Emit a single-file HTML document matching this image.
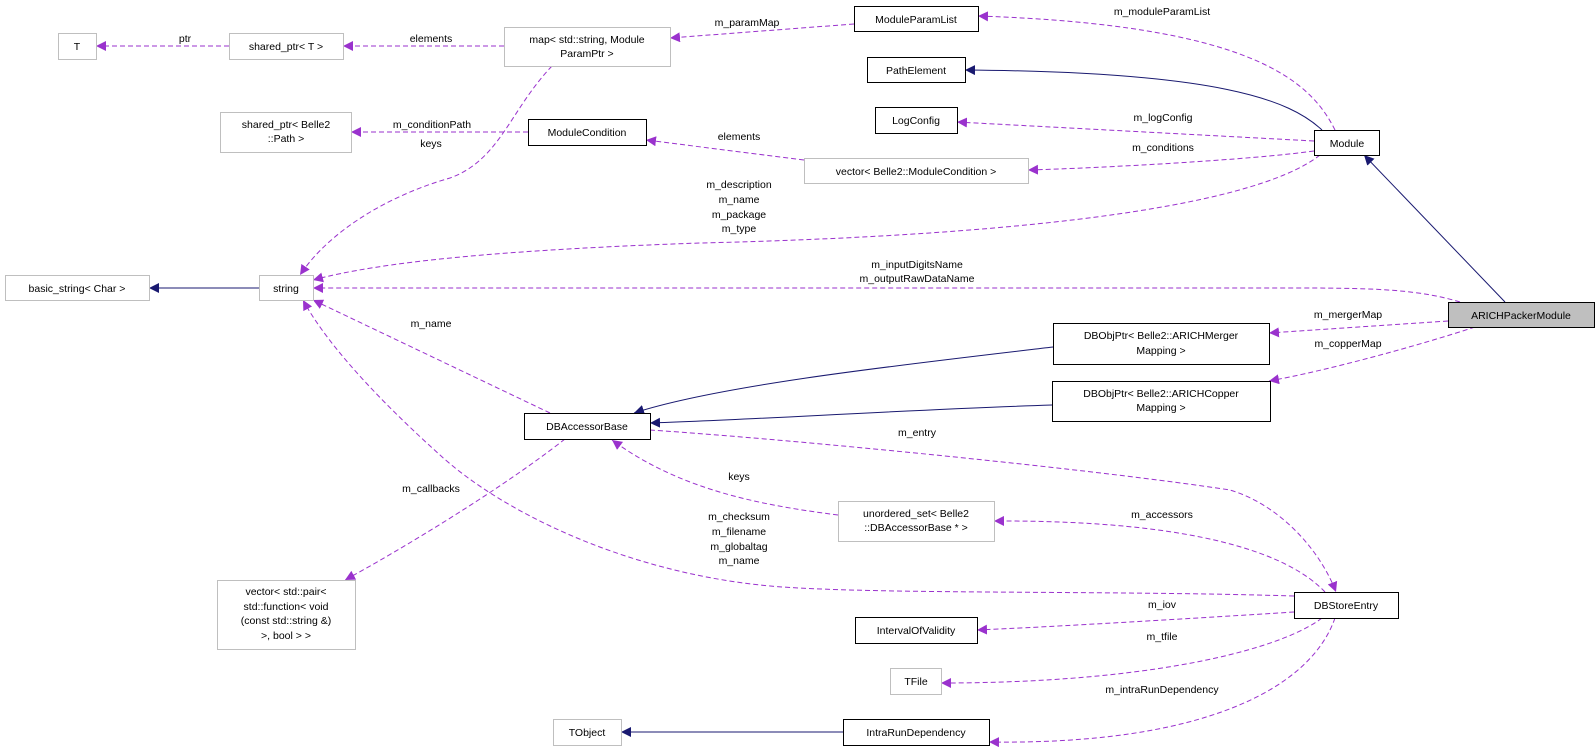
<!DOCTYPE html>
<html><head><meta charset="utf-8"><style>
html,body{margin:0;padding:0;background:#fff;}
svg{display:block;}
text{font-family:"Liberation Sans",sans-serif;font-size:10.5px;fill:#000;}
.n{fill:#fff;stroke:#000;stroke-width:1;}
.g{fill:#fff;stroke:#bfbfbf;stroke-width:1;}
.p{fill:none;stroke:#9a32cd;stroke-width:1;stroke-dasharray:5,3;}
.b{fill:none;stroke:#191970;stroke-width:1;}
</style></head><body>
<svg width="1596" height="751" viewBox="0 0 1596 751" xmlns="http://www.w3.org/2000/svg">
<defs>
<marker id="ap" markerUnits="userSpaceOnUse" markerWidth="12" markerHeight="10" refX="10" refY="5" orient="auto"><path d="M0,0 L10,5 L0,10 Z" fill="#9a32cd"/></marker>
<marker id="ab" markerUnits="userSpaceOnUse" markerWidth="12" markerHeight="10" refX="10" refY="5" orient="auto"><path d="M0,0 L10,5 L0,10 Z" fill="#191970"/></marker>
</defs>

<!-- edges -->
<path class="p" d="M229,46 L96,46" marker-end="url(#ap)"/>
<path class="p" d="M504,46 L343,46" marker-end="url(#ap)"/>
<path class="p" d="M854,24 L670,38" marker-end="url(#ap)"/>
<path class="p" d="M1335,130 C1310,80 1250,25 978,16" marker-end="url(#ap)"/>
<path class="b" d="M1322,130 C1290,100 1220,72 965,70" marker-end="url(#ab)"/>
<path class="p" d="M1314,141 L957,122" marker-end="url(#ap)"/>
<path class="p" d="M1314,151 C1250,160 1100,168 1028,170" marker-end="url(#ap)"/>
<path class="p" d="M804,160 L646,140" marker-end="url(#ap)"/>
<path class="p" d="M528,132 L351,132" marker-end="url(#ap)"/>
<path class="p" d="M552,66 C510,110 500,160 450,178 C390,195 330,230 300,275" marker-end="url(#ap)"/>
<path class="p" d="M1320,155 C1250,210 1000,236 700,243 C500,250 380,262 313,280" marker-end="url(#ap)"/>
<path class="p" d="M1460,302 C1420,290 1380,288 1300,288 L313,288" marker-end="url(#ap)"/>
<path class="b" d="M259,288 L149,288" marker-end="url(#ab)"/>
<path class="p" d="M1448,321 L1269,333" marker-end="url(#ap)"/>
<path class="p" d="M1475,327 C1420,345 1330,370 1269,381" marker-end="url(#ap)"/>
<path class="b" d="M1053,347 C900,365 720,385 634,413" marker-end="url(#ab)"/>
<path class="b" d="M1052,405 C900,410 750,420 650,423" marker-end="url(#ab)"/>
<path class="p" d="M550,413 L313,300" marker-end="url(#ap)"/>
<path class="p" d="M1294,596 C1100,590 850,595 760,585 C620,570 500,510 440,455 C390,410 330,350 303,300" marker-end="url(#ap)"/>
<path class="p" d="M565,439 C500,490 400,550 345,580" marker-end="url(#ap)"/>
<path class="p" d="M650,430 C800,440 1100,470 1230,490 C1280,505 1320,550 1336,592" marker-end="url(#ap)"/>
<path class="p" d="M1325,592 C1290,555 1200,520 994,521" marker-end="url(#ap)"/>
<path class="p" d="M838,515 C760,505 680,490 612,440" marker-end="url(#ap)"/>
<path class="p" d="M1294,612 C1200,618 1050,627 977,630" marker-end="url(#ap)"/>
<path class="p" d="M1322,618 C1280,650 1150,683 941,683" marker-end="url(#ap)"/>
<path class="p" d="M1335,618 C1310,690 1200,745 989,742" marker-end="url(#ap)"/>
<path class="b" d="M843,732 L621,732" marker-end="url(#ab)"/>
<path class="b" d="M1505,302 L1364,155" marker-end="url(#ab)"/>

<!-- nodes -->
<rect class="g" x="58.5" y="33.5" width="38" height="26"/><text x="77" y="50" text-anchor="middle">T</text>
<rect class="g" x="229.5" y="33.5" width="114" height="26"/><text x="286" y="50" text-anchor="middle">shared_ptr&lt; T &gt;</text>
<rect class="g" x="504.5" y="27.5" width="166" height="39"/><text x="587" y="43" text-anchor="middle">map&lt; std::string, Module</text><text x="587" y="57" text-anchor="middle">ParamPtr &gt;</text>
<rect class="g" x="220.5" y="112.5" width="131" height="40"/><text x="286" y="128" text-anchor="middle">shared_ptr&lt; Belle2</text><text x="286" y="142" text-anchor="middle">::Path &gt;</text>
<rect class="n" x="528.5" y="119.5" width="118" height="26"/><text x="587" y="136" text-anchor="middle">ModuleCondition</text>
<rect class="g" x="5.5" y="275.5" width="144" height="25"/><text x="77" y="292" text-anchor="middle">basic_string&lt; Char &gt;</text>
<rect class="g" x="259.5" y="275.5" width="54" height="25"/><text x="286" y="292" text-anchor="middle">string</text>
<rect class="n" x="854.5" y="6.5" width="124" height="25"/><text x="916" y="23" text-anchor="middle">ModuleParamList</text>
<rect class="n" x="867.5" y="57.5" width="98" height="25"/><text x="916" y="74" text-anchor="middle">PathElement</text>
<rect class="n" x="875.5" y="107.5" width="82" height="26"/><text x="916" y="124" text-anchor="middle">LogConfig</text>
<rect class="g" x="804.5" y="158.5" width="224" height="25"/><text x="916" y="175" text-anchor="middle">vector&lt; Belle2::ModuleCondition &gt;</text>
<rect class="n" x="1314.5" y="130.5" width="65" height="25"/><text x="1347" y="147" text-anchor="middle">Module</text>
<rect x="1448.5" y="302.5" width="146" height="25" fill="#bfbfbf" stroke="#000"/><text x="1521" y="319" text-anchor="middle">ARICHPackerModule</text>
<rect class="n" x="1053.5" y="323.5" width="216" height="41"/><text x="1161" y="339" text-anchor="middle">DBObjPtr&lt; Belle2::ARICHMerger</text><text x="1161" y="354" text-anchor="middle">Mapping &gt;</text>
<rect class="n" x="1052.5" y="381.5" width="218" height="40"/><text x="1161" y="397" text-anchor="middle">DBObjPtr&lt; Belle2::ARICHCopper</text><text x="1161" y="411" text-anchor="middle">Mapping &gt;</text>
<rect class="n" x="524.5" y="413.5" width="126" height="26"/><text x="587" y="430" text-anchor="middle">DBAccessorBase</text>
<rect class="g" x="217.5" y="580.5" width="138" height="69"/><text x="286" y="595" text-anchor="middle">vector&lt; std::pair&lt;</text><text x="286" y="610" text-anchor="middle">std::function&lt; void</text><text x="286" y="624" text-anchor="middle">(const std::string &amp;)</text><text x="286" y="639" text-anchor="middle">&gt;, bool &gt; &gt;</text>
<rect class="g" x="553.5" y="719.5" width="68" height="26"/><text x="587" y="736" text-anchor="middle">TObject</text>
<rect class="g" x="838.5" y="501.5" width="156" height="40"/><text x="916" y="517" text-anchor="middle">unordered_set&lt; Belle2</text><text x="916" y="531" text-anchor="middle">::DBAccessorBase * &gt;</text>
<rect class="n" x="1294.5" y="592.5" width="104" height="26"/><text x="1346" y="609" text-anchor="middle">DBStoreEntry</text>
<rect class="n" x="855.5" y="617.5" width="122" height="26"/><text x="916" y="634" text-anchor="middle">IntervalOfValidity</text>
<rect class="g" x="890.5" y="668.5" width="51" height="26"/><text x="916" y="685" text-anchor="middle">TFile</text>
<rect class="n" x="843.5" y="719.5" width="146" height="26"/><text x="916" y="736" text-anchor="middle">IntraRunDependency</text>

<!-- edge labels -->
<g text-anchor="middle">
<text x="185" y="42">ptr</text>
<text x="431" y="42">elements</text>
<text x="747" y="26">m_paramMap</text>
<text x="1162" y="15">m_moduleParamList</text>
<text x="1163" y="121">m_logConfig</text>
<text x="1163" y="151">m_conditions</text>
<text x="739" y="140">elements</text>
<text x="432" y="128">m_conditionPath</text>
<text x="431" y="147">keys</text>
<text x="739" y="188">m_description</text>
<text x="739" y="203">m_name</text>
<text x="739" y="218">m_package</text>
<text x="739" y="232">m_type</text>
<text x="917" y="268">m_inputDigitsName</text>
<text x="917" y="282">m_outputRawDataName</text>
<text x="1348" y="318">m_mergerMap</text>
<text x="1348" y="347">m_copperMap</text>
<text x="431" y="327">m_name</text>
<text x="917" y="436">m_entry</text>
<text x="431" y="492">m_callbacks</text>
<text x="739" y="480">keys</text>
<text x="739" y="520">m_checksum</text>
<text x="739" y="535">m_filename</text>
<text x="739" y="550">m_globaltag</text>
<text x="739" y="564">m_name</text>
<text x="1162" y="518">m_accessors</text>
<text x="1162" y="608">m_iov</text>
<text x="1162" y="640">m_tfile</text>
<text x="1162" y="693">m_intraRunDependency</text>
</g>
</svg>
</body></html>
